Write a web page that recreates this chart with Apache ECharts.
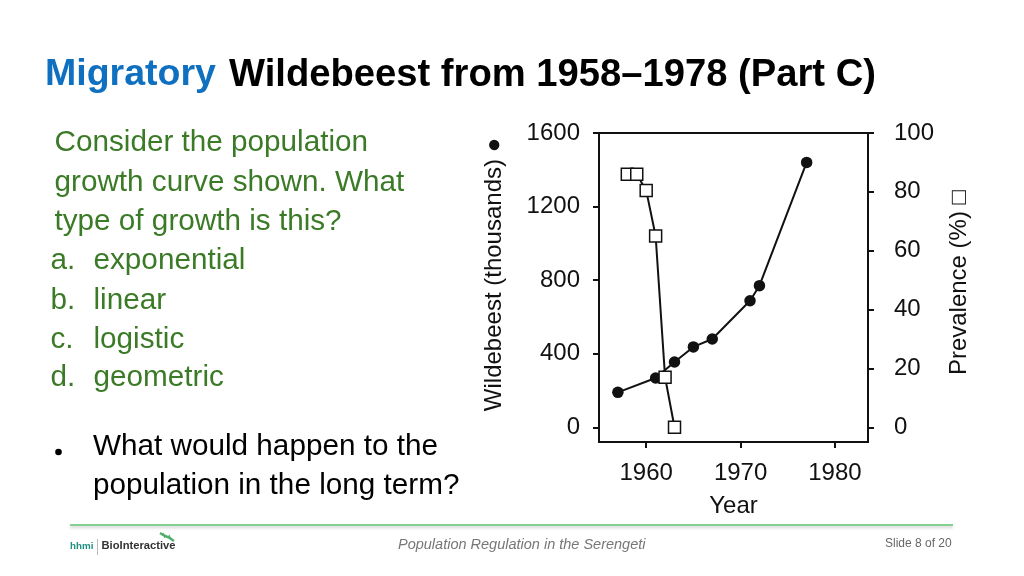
<!DOCTYPE html>
<html>
<head>
<meta charset="utf-8">
<script src="https://cdn.jsdelivr.net/npm/echarts@6/dist/echarts.min.js"></script>
<style>
html, body { margin: 0; padding: 0; background: #fff; }
#chart { width: 1024px; height: 576px; }
</style>
</head>
<body>
<div id="chart"></div>
<script>
// wildebeest census (thousands)
const wildebeestYears = [1957, 1961, 1963, 1965, 1967, 1971, 1972, 1977]
const wildebeestCounts = [190, 268, 355, 437, 480, 688, 770, 1440]
// prevalence (%)
const prevalenceYears = [1958, 1959, 1960, 1961, 1962, 1963]
const prevalenceValues = [86, 86, 80.5, 65, 17, 0]
// tick labels
const yearTicks = [1960, 1970, 1980]
const countTicks = [0, 400, 800, 1200, 1600]
const prevalenceTicks = [0, 20, 40, 60, 80, 100]

// slide text
const questionLines = ['Consider the population', 'growth curve shown. What', 'type of growth is this?']
const answerLetters = ['a.', 'b.', 'c.', 'd.']
const answerWords = ['exponential', 'linear', 'logistic', 'geometric']
const bulletLines = ['What would happen to the', 'population in the long term?']

const FONT = "'Liberation Sans', Arial, Helvetica, sans-serif"
const GREEN = '#3b7a26'
const BODY = 29.7

function text (x, y, str, size, color, extra) {
  return {
    type: 'text',
    x: x,
    y: y,
    silent: true,
    style: Object.assign({
      text: str,
      font: size + 'px ' + FONT,
      fill: color,
      align: 'left',
      verticalAlign: 'middle',
      textAlign: 'left',
      textVerticalAlign: 'middle'
    }, extra || {})
  }
}

const graphics = []
// title
graphics.push(text(45, 75, 'Migratory', 37, '#0f70c0', { font: 'bold 37.5px ' + FONT }))
graphics.push(text(229, 75, 'Wildebeest from 1958–1978 (Part C)', 38, '#000', { font: 'bold 38.2px ' + FONT }))
// question
const questionY = [143, 182.5, 221.5]
questionLines.forEach((s, i) => graphics.push(text(54.5, questionY[i], s, BODY, GREEN)))
const answerY = [261, 300.5, 339.5, 378]
answerLetters.forEach((s, i) => {
  graphics.push(text(50.5, answerY[i], s, BODY, GREEN))
  graphics.push(text(93.5, answerY[i], answerWords[i], BODY, GREEN))
})
// bullet
graphics.push({ type: 'circle', silent: true, shape: { cx: 58.5, cy: 452, r: 3.3 }, style: { fill: '#000' } })
graphics.push(text(93, 447, bulletLines[0], BODY, '#000'))
graphics.push(text(93, 485.5, bulletLines[1], BODY, '#000'))
// footer
graphics.push({
  type: 'line',
  silent: true,
  shape: { x1: 70, y1: 525, x2: 953, y2: 525 },
  style: { stroke: '#5cc46e', lineWidth: 1.5, shadowColor: 'rgba(0,0,0,0.25)', shadowBlur: 3, shadowOffsetY: 2 }
})
graphics.push(text(70, 546, 'hhmi', 9.8, '#1f8f80', { font: 'bold 9.8px ' + FONT }))
graphics.push({ type: 'line', silent: true, shape: { x1: 97.5, y1: 539, x2: 97.5, y2: 555 }, style: { stroke: '#bbb', lineWidth: 1 } })
graphics.push(text(101.5, 546, 'BioInteractive', 11.2, '#333', { font: 'bold 11.2px ' + FONT }))
// small lizard mark over the logo
graphics.push({
  type: 'polyline',
  silent: true,
  shape: { points: [[160, 533], [164, 535.5], [169, 537.5], [174, 541]] },
  style: { stroke: '#4fae6a', lineWidth: 2.5, fill: null }
})
graphics.push({ type: 'polyline', silent: true, shape: { points: [[163, 533], [165, 538]] }, style: { stroke: '#4fae6a', lineWidth: 1.2, fill: null } })
graphics.push({ type: 'polyline', silent: true, shape: { points: [[169, 535], [171, 540]] }, style: { stroke: '#4fae6a', lineWidth: 1.2, fill: null } })
graphics.push(text(398, 545, 'Population Regulation in the Serengeti', 14.5, '#777', { font: 'italic 14.5px ' + FONT }))
graphics.push(text(885, 544, 'Slide 8 of 20', 12, '#666'))

const axisLineStyle = { color: '#111', width: 2 }
const labelStyle = { fontSize: 24, color: '#111', fontFamily: FONT }
const plain = v => String(v)

const option = {
  animation: false,
  backgroundColor: '#fff',
  graphic: { elements: graphics },
  grid: {
    left: 599,
    right: 156,
    top: 133,
    bottom: 134,
    show: true,
    borderColor: '#111',
    borderWidth: 2,
    backgroundColor: 'transparent'
  },
  xAxis: {
    type: 'value',
    min: 1955,
    max: 1983.5,
    splitLine: { show: false },
    axisLine: { onZero: false, lineStyle: axisLineStyle },
    axisTick: { customValues: yearTicks, length: 6, lineStyle: axisLineStyle },
    axisLabel: Object.assign({ customValues: yearTicks, margin: 19, formatter: plain }, labelStyle),
    name: 'Year',
    nameLocation: 'middle',
    nameGap: 52,
    nameTextStyle: labelStyle
  },
  yAxis: [
    {
      type: 'value',
      position: 'left',
      min: -80,
      max: 1600,
      splitLine: { show: false },
      axisLine: { show: true, onZero: false, lineStyle: axisLineStyle },
      axisTick: { show: true, customValues: countTicks, length: 6, lineStyle: axisLineStyle },
      axisLabel: Object.assign({ customValues: countTicks, margin: 19, formatter: plain }, labelStyle),
      name: 'Wildebeest (thousands) ●',
      nameLocation: 'middle',
      nameGap: 93,
      nameRotate: 90,
      nameTextStyle: Object.assign({ padding: [0, 0, 0, 26] }, labelStyle)
    },
    {
      type: 'value',
      position: 'right',
      min: -5,
      max: 100,
      splitLine: { show: false },
      axisLine: { show: true, onZero: false, lineStyle: axisLineStyle },
      axisTick: { show: true, customValues: prevalenceTicks, length: 6, lineStyle: axisLineStyle },
      axisLabel: Object.assign({ customValues: prevalenceTicks, margin: 26, formatter: plain }, labelStyle),
      name: 'Prevalence (%) □',
      nameLocation: 'middle',
      nameGap: 79,
      nameRotate: 90,
      nameTextStyle: Object.assign({ padding: [0, 0, 0, 10] }, labelStyle)
    }
  ],
  series: [
    {
      name: 'Wildebeest',
      type: 'line',
      yAxisIndex: 0,
      data: wildebeestYears.map((y, i) => [y, wildebeestCounts[i]]),
      symbol: 'circle',
      symbolSize: 11.5,
      itemStyle: { color: '#111' },
      lineStyle: { color: '#111', width: 2 }
    },
    {
      name: 'Prevalence',
      type: 'line',
      yAxisIndex: 1,
      data: prevalenceYears.map((y, i) => [y, prevalenceValues[i]]),
      symbol: 'rect',
      symbolSize: 12,
      itemStyle: { color: '#fff', borderColor: '#111', borderWidth: 1.5 },
      lineStyle: { color: '#111', width: 2 }
    }
  ]
}

const myChart = echarts.init(document.getElementById('chart'))
myChart.setOption(option)
</script>
</body>
</html>
